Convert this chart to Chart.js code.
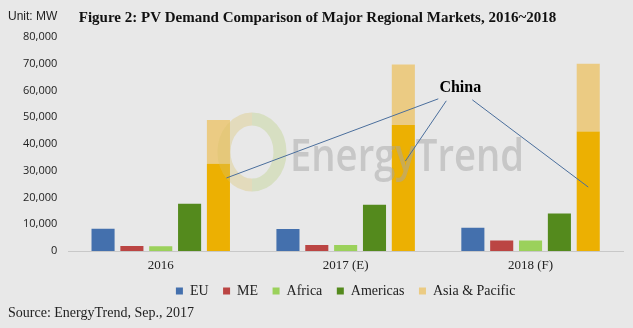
<!DOCTYPE html>
<html>
<head>
<meta charset="utf-8">
<script src="https://cdn.jsdelivr.net/npm/chart.js@4.4.0/dist/chart.umd.min.js"></script>
<style>
  html, body { margin: 0; padding: 0; background: #e8e8e8; }
  #wrap { width: 633px; height: 328px; position: relative; }
</style>
</head>
<body>
<div id="wrap"><canvas id="pv-chart"></canvas></div>
<script>
var years = ["2016", "2017 (E)", "2018 (F)"];
var eu = [8300, 8200, 8700];
var me = [1900, 2200, 3900];
var africa = [1800, 2200, 3900];
var americas = [17700, 17300, 14000];
var asiaPacific = [49000, 69700, 70000];
var china = [32600, 47100, 44700];

var apRest = asiaPacific.map(function (v, i) { return v - china[i]; });

// watermark, "China" callout and unit / source texts
var extras = {
  id: "extras",
  afterDatasetsDraw: function (chart) {
    var ctx = chart.ctx;
    var x = chart.scales.x, y = chart.scales.y;
    ctx.save();
    // watermark logo ring
    ctx.globalAlpha = 0.35;
    ctx.lineWidth = 13;
    ctx.strokeStyle = "#d9c46a";
    ctx.beginPath();
    ctx.ellipse(252, 152, 28, 33, 0, Math.PI * 0.5, Math.PI * 1.5);
    ctx.stroke();
    ctx.strokeStyle = "#b8cf7a";
    ctx.beginPath();
    ctx.ellipse(252, 152, 28, 33, 0, -Math.PI * 0.5, Math.PI * 0.5);
    ctx.stroke();
    ctx.globalAlpha = 1;
    ctx.fillStyle = "rgba(165,165,165,0.5)";
    ctx.font = "600 46px 'Open Sans'";
    ctx.textBaseline = "alphabetic";
    ctx.fillText("EnergyTrend", 290, 171, 234);

    // China callout
    var meta = chart.getDatasetMeta(4);
    var lx = x.getPixelForValue(1.62), ly = y.getPixelForValue(61000);
    var starts = [[lx - 22, ly + 11], [lx - 14, ly + 13], [lx + 12, ly + 12]];
    var ends = [
      [meta.data[0].x + 8, y.getPixelForValue(27300)],
      [meta.data[1].x + 2, y.getPixelForValue(33600)],
      [meta.data[2].x, y.getPixelForValue(23900)]
    ];
    ctx.strokeStyle = "#4a6e9c";
    ctx.lineWidth = 1;
    for (var i = 0; i < 3; i++) {
      ctx.beginPath();
      ctx.moveTo(starts[i][0], starts[i][1]);
      ctx.lineTo(ends[i][0], ends[i][1]);
      ctx.stroke();
    }
    ctx.fillStyle = "#000";
    ctx.font = "bold 16px 'Liberation Serif'";
    ctx.textAlign = "center";
    ctx.textBaseline = "middle";
    ctx.fillText("China", lx, ly);

    // unit + source
    ctx.textAlign = "left";
    ctx.font = "12px 'Liberation Sans Narrow', 'Liberation Sans'";
    ctx.fillStyle = "#222";
    ctx.fillText("Unit: MW", 8, 17);
    ctx.font = "14px 'Liberation Serif'";
    ctx.fillText("Source: EnergyTrend, Sep., 2017", 8, 313);
    ctx.restore();
  }
};

function ds(label, data, color, stack, legend) {
  return {
    label: label,
    data: data,
    backgroundColor: color,
    stack: stack,
    hideLegend: !legend,
    categoryPercentage: 0.78,
    barPercentage: 0.8
  };
}

new Chart("pv-chart", {
  type: "bar",
  data: {
    labels: years,
    datasets: [
      ds("EU", eu, "#4470ad", "eu", true),
      ds("ME", me, "#bb4543", "me", true),
      ds("Africa", africa, "#9bd15b", "af", true),
      ds("Americas", americas, "#548a1d", "am", true),
      ds("China", china, "#ecb002", "ap", false),
      ds("Asia & Pacific", apRest, "#ebcb83", "ap", true)
    ]
  },
  options: {
    responsive: true,
    maintainAspectRatio: false,
    animation: false,
    layout: { padding: { left: 12, right: 10, top: 0, bottom: 20 } },
    plugins: {
      title: {
        display: true,
        text: "Figure 2: PV Demand Comparison of Major Regional Markets, 2016~2018",
        color: "#111",
        font: { family: "Liberation Serif", size: 15, weight: "bold" },
        padding: { top: 9, bottom: 10 }
      },
      legend: {
        position: "bottom",
        fullSize: false,
        labels: {
          boxWidth: 7,
          boxHeight: 7,
          padding: 4,
          color: "#222",
          font: { family: "Liberation Serif", size: 14, lineHeight: 1 },
          generateLabels: function (chart) {
            var items = Chart.defaults.plugins.legend.labels.generateLabels(chart)
              .filter(function (it) { return !chart.data.datasets[it.datasetIndex].hideLegend; });
            items.forEach(function (it, i) {
              if (i < items.length - 1) it.text = it.text + "   ";
            });
            return items;
          }
        }
      },
      tooltip: { enabled: false }
    },
    scales: {
      x: {
        stacked: true,
        grid: { display: false, drawTicks: false },
        border: { color: "#c8c8c8" },
        ticks: { color: "#222", padding: 8, font: { family: "Liberation Serif", size: 13, lineHeight: 1 } }
      },
      y: {
        stacked: true,
        min: 0,
        max: 80000,
        grid: { display: false, drawTicks: false },
        border: { display: false },
        ticks: {
          stepSize: 10000,
          color: "#222",
          padding: 11,
          font: { family: "Open Sans", size: 11 },
          callback: function (v) { return v.toLocaleString("en-US"); }
        }
      }
    }
  },
  plugins: [extras]
});
</script>
</body>
</html>
